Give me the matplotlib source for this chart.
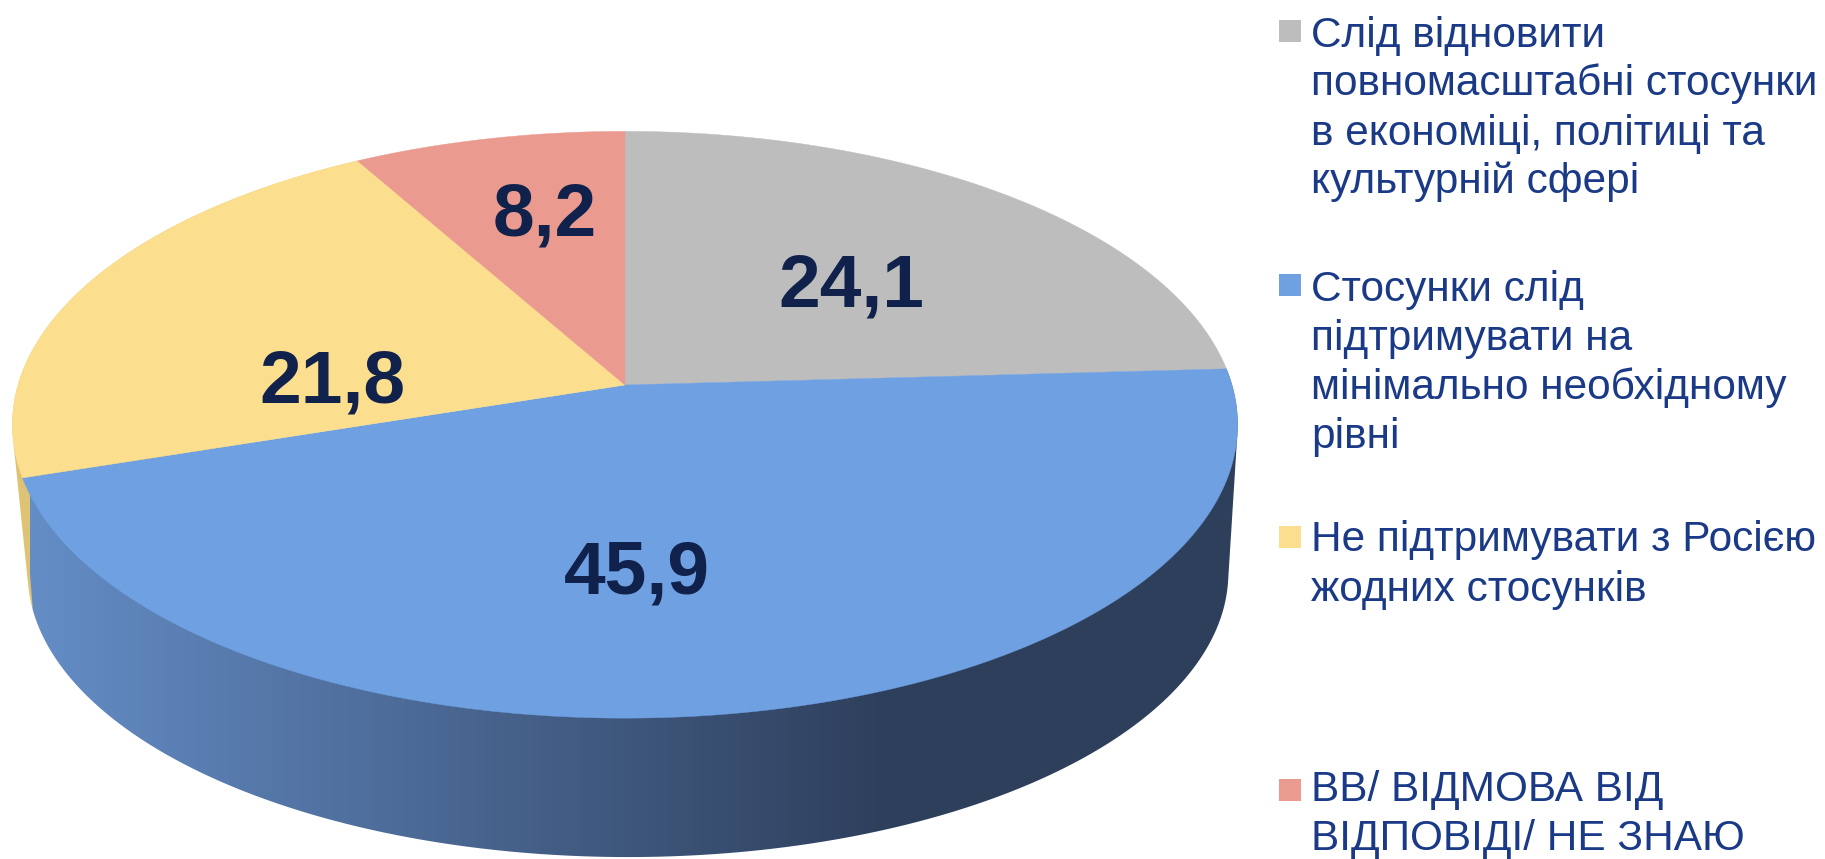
import numpy as np
import matplotlib
matplotlib.use("Agg")
import matplotlib.pyplot as plt
from matplotlib.patches import Polygon, Rectangle
from matplotlib.colors import LinearSegmentedColormap

categories = [
    "Слід відновити\nповномасштабні стосунки\nв економіці, політиці та\nкультурній сфері",
    "Стосунки слід\nпідтримувати на\nмінімально необхідному\nрівні",
    "Не підтримувати з Росією\nжодних стосунків",
    "ВВ/ ВІДМОВА ВІД\nВІДПОВІДІ/ НЕ ЗНАЮ",
]
values = [24.1, 45.9, 21.8, 8.2]
value_labels = ["24,1", "45,9", "21,8", "8,2"]
colors = ["#BDBDBD", "#6FA0E1", "#FBDF8E", "#EA9A8E"]

plt.rcParams["font.family"] = ["Liberation Sans", "DejaVu Sans"]
W, H = 1825, 859
fig = plt.figure(figsize=(W / 100, H / 100), dpi=100)
ax = fig.add_axes([0, 0, 1, 1])
ax.set_xlim(0, W)
ax.set_ylim(H, 0)
ax.axis("off")


def top_rim(theta):
    X, Y = np.sin(theta), np.cos(theta)
    d = 1 + 0.1355 * Y
    return np.column_stack([625 + 607 * X / d, 385 - 288 * Y / d])


def bottom_rim(theta):
    X, Y = np.sin(theta), np.cos(theta)
    d = 1 + 0.185 * Y
    return np.column_stack([628 + 590 * X / d, 520 - 274.7 * Y / d])


def hull(points):
    pts = sorted(map(tuple, points))

    def half(seq):
        out = []
        for p in seq:
            while len(out) > 1 and ((out[-1][0] - out[-2][0]) * (p[1] - out[-2][1])
                                    - (out[-1][1] - out[-2][1]) * (p[0] - out[-2][0])) <= 0:
                out.pop()
            out.append(p)
        return out[:-1]

    return np.array(half(pts) + half(pts[::-1]))


edges = np.radians(np.concatenate([[0], np.cumsum(values)]) * 3.6)
arc = lambda a, b: np.linspace(a, b, 300)

# Side wall: yellow sliver, then the gradient blue wall over it
th = arc(edges[2], edges[3])
ax.add_patch(Polygon(hull(np.vstack([top_rim(th), bottom_rim(th)])), closed=True,
                     fc="#DDC373", ec="none", zorder=1))

th = arc(edges[1], edges[2])
wall = Polygon(hull(np.vstack([top_rim(th), bottom_rim(th)])), closed=True,
               fc="none", ec="none", zorder=2)
ax.add_patch(wall)
cmap = LinearSegmentedColormap.from_list("wall", ["#648DC6", "#2E3F5C"])
img = ax.imshow(np.linspace(0, 1, 512).reshape(1, -1), cmap=cmap, aspect="auto",
                extent=[30, 888, H, 0], zorder=2, interpolation="bilinear")
img.set_clip_path(wall)
dark = Rectangle((888, 0), W - 888, H, fc="#2E3F5C", ec="none", zorder=2)
ax.add_patch(dark)
dark.set_clip_path(wall)
ax.set_xlim(0, W)
ax.set_ylim(H, 0)

# Top face
for i, c in enumerate(colors):
    rim = top_rim(arc(edges[i], edges[i + 1]))
    ax.add_patch(Polygon(np.vstack([[625, 385], rim]), closed=True, fc=c, ec=c,
                         lw=0.3, zorder=3))

# Value labels
label_pos = [(851, 287), (637, 574), (332, 383), (545, 216)]
for s, (x, y) in zip(value_labels, label_pos):
    ax.text(x, y, s, fontsize=54, fontweight="bold", color="#10214B",
            ha="center", va="center", zorder=4)

# Legend
first_baseline = [46.5, 301, 551.5, 801]
square_top = [19.5, 274, 525.5, 778.5]
line_step = 49
for cat, c, y0, sq in zip(categories, colors, first_baseline, square_top):
    ax.add_patch(Rectangle((1279.5, sq), 21.5, 22, fc=c, ec="none", zorder=4))
    for j, line in enumerate(cat.split("\n")):
        ax.text(1311, y0 + j * line_step, line, fontsize=30.55, color="#1A3A87",
                ha="left", va="baseline", zorder=4)

fig.savefig("out.png", dpi=100, facecolor="white")
